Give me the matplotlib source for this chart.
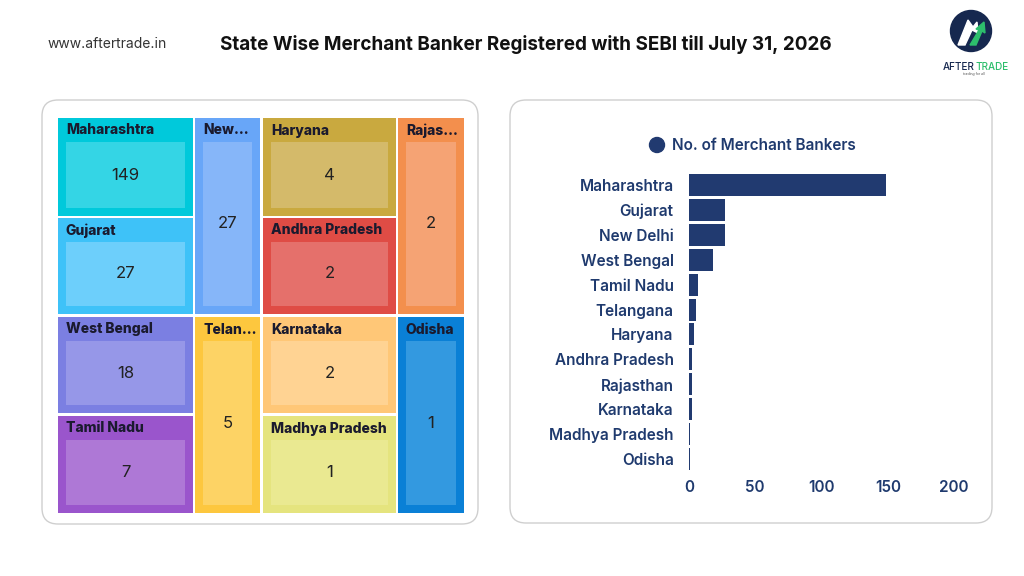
import matplotlib
matplotlib.use("Agg")
import matplotlib.pyplot as plt
from matplotlib.patches import FancyBboxPatch, Rectangle, Circle, Polygon

# ---------------- data ----------------
states = ["Maharashtra", "Gujarat", "New Delhi", "West Bengal", "Tamil Nadu",
          "Telangana", "Haryana", "Andhra Pradesh", "Rajasthan", "Karnataka",
          "Madhya Pradesh", "Odisha"]
counts = [149, 27, 27, 18, 7, 5, 4, 2, 2, 2, 1, 1]
x_ticks = [0, 50, 100, 150, 200]
legend_label = "No. of Merchant Bankers"
title = "State Wise Merchant Banker Registered with SEBI till July 31, 2026"
website = "www.aftertrade.in"

# treemap grid placement: (column, row, rowspan)
tile_grid = {
    "Maharashtra": (0, 0, 1), "Gujarat": (0, 1, 1), "West Bengal": (0, 2, 1),
    "Tamil Nadu": (0, 3, 1), "New Delhi": (1, 0, 2), "Telangana": (1, 2, 2),
    "Haryana": (2, 0, 1), "Andhra Pradesh": (2, 1, 1), "Karnataka": (2, 2, 1),
    "Madhya Pradesh": (2, 3, 1), "Rajasthan": (3, 0, 2), "Odisha": (3, 2, 2),
}
tile_outer = {
    "Maharashtra": "#00C9DB", "Gujarat": "#3EC2F8", "New Delhi": "#68A6F8",
    "West Bengal": "#7B7FE2", "Tamil Nadu": "#9A55CC", "Telangana": "#FDC73E",
    "Haryana": "#C9A93F", "Andhra Pradesh": "#DF4C45", "Rajasthan": "#F38F4D",
    "Karnataka": "#FFC777", "Madhya Pradesh": "#E5E47E", "Odisha": "#0A80D6",
}
tile_inner = {
    "Maharashtra": "#34D5E5", "Gujarat": "#6DCFFB", "New Delhi": "#86B6F9",
    "West Bengal": "#9697E8", "Tamil Nadu": "#AE78D6", "Telangana": "#FDD365",
    "Haryana": "#D4BA6A", "Andhra Pradesh": "#E5706B", "Rajasthan": "#F5A374",
    "Karnataka": "#FFD393", "Madhya Pradesh": "#EAE991", "Odisha": "#3399E0",
}

NAVY = "#1F3A6E"
FONT = ["Inter", "DejaVu Sans"]
plt.rcParams["font.family"] = FONT

W, H = 1024, 576
fig = plt.figure(figsize=(W / 100, H / 100), dpi=100)
fig.patch.set_facecolor("white")
bg = fig.add_axes([0, 0, 1, 1])
bg.set_xlim(0, W)
bg.set_ylim(H, 0)
bg.axis("off")

# header
bg.text(48, 44, website, fontsize=10, color="#333333", va="center", ha="left")
bg.text(526, 45, title, fontsize=13.6, fontweight="bold", color="#111111",
        va="center", ha="center")

# logo
bg.add_patch(Circle((971, 31), 20.5, color="#16284F"))
bg.add_patch(Polygon([(958, 45), (968, 20), (973, 27), (977, 22), (978, 33),
                      (972, 30), (965, 45)], closed=True, color="white"))
bg.add_patch(Polygon([(970, 45), (979, 30), (976, 29), (984, 22), (985, 33),
                      (982, 31), (976, 45)], closed=True, color="#2DBE6C"))
bg.text(975, 67, "AFTER", fontsize=7.2, fontweight="medium", color="#16284F",
        ha="right", va="center")
bg.text(975, 67, "TRADE", fontsize=7.2, fontweight="medium", color="#2DBE6C",
        ha="left", va="center")
bg.text(974, 73.5, "trading for all", fontsize=2.5, color="#555555",
        ha="center", va="center")

# panels
for (x0, y0, x1, y1) in [(42, 100, 478, 524), (510, 100, 992, 523)]:
    bg.add_patch(FancyBboxPatch((x0, y0), x1 - x0, y1 - y0,
                                boxstyle="round,pad=0,rounding_size=16",
                                facecolor="white", edgecolor="#CFCFCF", lw=1.0))

# treemap layout
col_edges = [(58, 193), (195, 260), (263, 396), (398, 464)]
row_edges = [(118, 216), (218, 314), (317, 413), (416, 513)]
fig.canvas.draw()
renderer = fig.canvas.get_renderer()
for name, val in zip(states, counts):
    c, r, span = tile_grid[name]
    x0, x1 = col_edges[c]
    y0 = row_edges[r][0]
    y1 = row_edges[r + span - 1][1]
    bg.add_patch(Rectangle((x0, y0), x1 - x0, y1 - y0,
                           facecolor=tile_outer[name], edgecolor="none"))
    bg.add_patch(Rectangle((x0 + 8, y0 + 24), x1 - x0 - 16, y1 - y0 - 32,
                           facecolor=tile_inner[name], edgecolor="none"))
    # label, truncated to fit
    avail = x1 - x0 - 10
    t = bg.text(x0 + 8, y0 + 12.5, name, fontsize=10, fontweight="heavy",
                color="#1A1A2E", ha="left", va="center")
    n = len(name)
    while t.get_window_extent(renderer).width > avail and n > 1:
        n -= 1
        t.set_text(name[:n].rstrip() + "...")
    bg.text((x0 + x1) / 2, (y0 + 24 + y1 - 8) / 2, str(val), fontsize=12,
            color="#222222", ha="center", va="center")

# bar chart
ax = fig.add_axes([689 / W, 1 - 471.5 / H, (954 - 689) / W, 299 / H])
ax.barh(range(len(states)), counts, height=0.88, color="#213A70")
ax.set_ylim(len(states) - 0.5, -0.5)
ax.set_xlim(0, 200)
ax.set_xticks(x_ticks)
ax.set_xticklabels([str(v) for v in x_ticks])
ax.set_yticks(range(len(states)))
ax.set_yticklabels(states)
ax.tick_params(length=0, labelsize=11, labelcolor=NAVY)
ax.tick_params(axis="y", pad=11)
ax.tick_params(axis="x", pad=6)
for lbl in ax.get_xticklabels() + ax.get_yticklabels():
    lbl.set_fontweight("semibold")
for s in ax.spines.values():
    s.set_visible(False)
ax.patch.set_alpha(0)

# legend
bg.add_patch(Circle((657, 145), 7.5, color="#213A70"))
bg.text(672, 145, legend_label, fontsize=11, fontweight="semibold",
        color=NAVY, ha="left", va="center")

fig.savefig("out.png", dpi=100, facecolor="white")
